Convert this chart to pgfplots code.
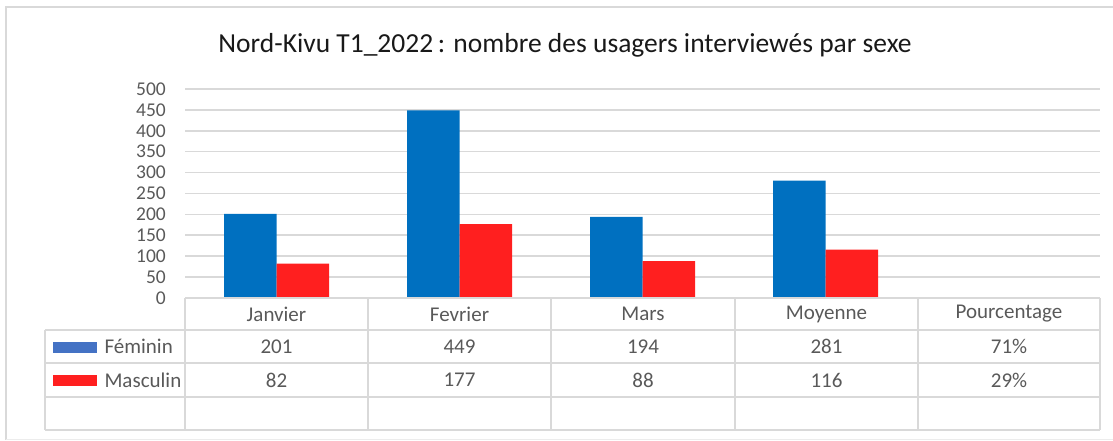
\documentclass[border=0pt]{standalone}
\usepackage{fontspec}
\setmainfont{Carlito}
\usepackage{pgfplots}
\pgfplotsset{compat=1.18}
\definecolor{fem}{HTML}{0070C0}
\definecolor{mas}{HTML}{FF1F1F}
\definecolor{femkey}{HTML}{4472C4}
\definecolor{gridc}{HTML}{D9D9D9}
\definecolor{txt}{HTML}{595959}
\begin{document}
\begin{tikzpicture}[x=1pt,y=1pt]
\useasboundingbox (0,0) rectangle (1113,441);
\draw[gridc, line width=2pt] (6,1) -- (6,434) -- (1125,434);
\draw[gridc!50, line width=1pt] (6,1) -- (1125,1);
\node[font=\fontsize{27.5}{27.5}\selectfont, text=black!90] at (565,396) {Nord-Kivu T1\_2022\,: nombre des usagers interviewés par sexe};
\begin{axis}[at={(185pt,143pt)}, anchor=south west, scale only axis,
  width=915pt, height=209pt,
  xmin=-0.5, xmax=4.5, ymin=0, ymax=500,
  ytick={0,50,...,500}, ymajorgrids,
  grid style={gridc, line width=1.6pt},
  axis line style={draw=none}, xtick=\empty, major tick length=0pt,
  ybar=0pt, bar width=52.5pt,
  yticklabel style={text=txt, font=\fontsize{19.5}{19.5}\selectfont, anchor=east, inner sep=0pt, xshift=-19pt},
  /pgf/number format/assume math mode=true,
  clip=false]
\addplot[fill=fem, draw=none] coordinates {(0,201) (1,449) (2,194) (3,281) (4,0.71)};
\addplot[fill=mas, draw=none] coordinates {(0,82) (1,177) (2,88) (3,116) (4,0.29)};
\end{axis}
% data table
\begin{scope}[gridc, line width=1.6pt]
\draw (185,143) -- (1100,143);
\foreach \yy in {111,78,44,11} \draw (45,\yy) -- (1100,\yy);
\foreach \xx in {185,368,551,735,918,1100} \draw (\xx,143) -- (\xx,11);
\draw (45,111) -- (45,11);
\end{scope}
\fill[femkey] (53,88) rectangle (97,99);
\fill[mas] (53,55) rectangle (97,66);
\begin{scope}[every node/.style={text=txt, font=\fontsize{21}{21}\selectfont}]
\node[anchor=west] at (101,94.5) {Féminin};
\node[anchor=west] at (101,61) {Masculin};
\node at (276.5,127) {Janvier};
\node at (459.5,127) {Fevrier};
\node at (643,127) {Mars};
\node at (826.5,127) {Moyenne};
\node at (1009,127) {Pourcentage};
\node at (276.5,94.5) {201};
\node at (459.5,94.5) {449};
\node at (643,94.5) {194};
\node at (826.5,94.5) {281};
\node at (1009,94.5) {71\%};
\node at (276.5,61) {82};
\node at (459.5,61) {177};
\node at (643,61) {88};
\node at (826.5,61) {116};
\node at (1009,61) {29\%};
\end{scope}
\end{tikzpicture}
\end{document}
